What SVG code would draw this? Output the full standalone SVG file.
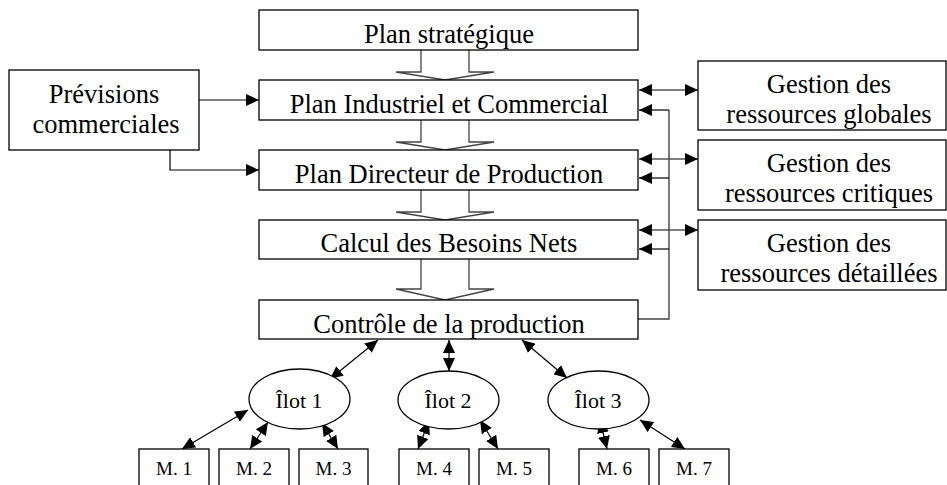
<svg xmlns="http://www.w3.org/2000/svg" width="947" height="485" viewBox="0 0 947 485">
<defs>
<style>
.box{fill:#fff;stroke:#000;stroke-width:1.3}
.t{font-family:"Liberation Serif","Times New Roman",serif;font-size:26.5px;fill:#000;text-anchor:middle}
.ti{font-family:"Liberation Serif","Times New Roman",serif;font-size:22px;fill:#000;text-anchor:middle}
.tm{font-family:"Liberation Serif","Times New Roman",serif;font-size:19px;fill:#000;text-anchor:middle}
.gl{fill:none;stroke:#444;stroke-width:1.4}
.ar{fill:none;stroke:#000;stroke-width:1.2;marker-end:url(#ah)}
.da{fill:none;stroke:#000;stroke-width:1.2;marker-start:url(#ah);marker-end:url(#ah)}
.ha{fill:#fff;stroke:#444;stroke-width:1.3}
</style>
<marker id="ah" markerUnits="userSpaceOnUse" markerWidth="13" markerHeight="12" refX="13" refY="6" orient="auto-start-reverse" viewBox="0 0 13 12">
<path d="M0,0 L13,6 L0,12 z" fill="#000"/>
</marker>
</defs>

<g id="connectors">
<path class="ha" d="M421,50 V72 H396 L445,80 L494,72 H469 V50"/>
<path class="ha" d="M421,120 V142 H396 L445,150 L494,142 H469 V120"/>
<path class="ha" d="M421,190 V212 H396 L445,220 L494,212 H469 V190"/>
<path class="ha" d="M421,259 V289 H396 L445,300 L494,289 H469 V259"/>
<path class="ar" d="M199,100 H259"/>
<path class="ar" d="M170,150 V170 H259"/>
<path class="da" d="M639,90 H698"/>
<path class="da" d="M639,159 H698"/>
<path class="da" d="M639,230 H698"/>
<path class="gl" d="M638,319 H669 V110"/>
<path class="ar" d="M669,110 H639"/>
<path class="ar" d="M669,178 H639"/>
<path class="ar" d="M669,249 H639"/>
<path class="da" d="M378,340 L330,379"/>
<path class="da" d="M449,340 L449,371"/>
<path class="da" d="M522,340 L567,378"/>
<path class="da" d="M248,410 L182,449"/>
<path class="da" d="M268,422 L250,449"/>
<path class="da" d="M322,423 L338,449"/>
<path class="da" d="M429,421 L418,449"/>
<path class="da" d="M480,420 L498,449"/>
<path class="da" d="M600,420 L607,449"/>
<path class="da" d="M640,420 L685,449"/>
</g>

<g id="plan-strategique"><rect class="box" x="259" y="10" width="379" height="40"/><text class="t" x="449" y="43">Plan stratégique</text></g>
<g id="pic"><rect class="box" x="259" y="80" width="379" height="40"/><text class="t" x="449" y="113">Plan Industriel et Commercial</text></g>
<g id="pdp"><rect class="box" x="259" y="150" width="379" height="40"/><text class="t" x="449" y="183">Plan Directeur de Production</text></g>
<g id="cbn"><rect class="box" x="259" y="220" width="379" height="39"/><text class="t" x="449" y="252">Calcul des Besoins Nets</text></g>
<g id="controle"><rect class="box" x="259" y="300" width="379" height="39"/><text class="t" x="449" y="333">Contrôle de la production</text></g>

<g id="previsions"><rect class="box" x="9" y="70" width="190" height="80"/><text class="t" x="104" y="103">Prévisions</text><text class="t" x="106" y="133">commerciales</text></g>

<g id="gestion-globales"><rect class="box" x="698" y="61" width="248" height="69"/><text class="t" x="829" y="93">Gestion des</text><text class="t" x="829" y="123">ressources globales</text></g>
<g id="gestion-critiques"><rect class="box" x="698" y="140" width="248" height="70"/><text class="t" x="829" y="172">Gestion des</text><text class="t" x="829" y="202">ressources critiques</text></g>
<g id="gestion-detaillees"><rect class="box" x="698" y="220" width="248" height="70"/><text class="t" x="829" y="252">Gestion des</text><text class="t" x="829" y="282">ressources détaillées</text></g>

<g id="ilot1"><ellipse class="box" cx="299.5" cy="399" rx="50.5" ry="30"/><text class="ti" x="299" y="408">Îlot 1</text></g>
<g id="ilot2"><ellipse class="box" cx="448.5" cy="400" rx="50.5" ry="29"/><text class="ti" x="448" y="408">Îlot 2</text></g>
<g id="ilot3"><ellipse class="box" cx="598.5" cy="400" rx="50.5" ry="29"/><text class="ti" x="598" y="408">Îlot 3</text></g>

<g id="m1"><rect class="box" x="139" y="449" width="70" height="50"/><text class="tm" x="174" y="475">M. 1</text></g>
<g id="m2"><rect class="box" x="219" y="449" width="70" height="50"/><text class="tm" x="254" y="475">M. 2</text></g>
<g id="m3"><rect class="box" x="299" y="449" width="69" height="50"/><text class="tm" x="333.5" y="475">M. 3</text></g>
<g id="m4"><rect class="box" x="399" y="449" width="70" height="50"/><text class="tm" x="434" y="475">M. 4</text></g>
<g id="m5"><rect class="box" x="479" y="449" width="70" height="50"/><text class="tm" x="514" y="475">M. 5</text></g>
<g id="m6"><rect class="box" x="579" y="449" width="70" height="50"/><text class="tm" x="614" y="475">M. 6</text></g>
<g id="m7"><rect class="box" x="659" y="449" width="70" height="50"/><text class="tm" x="694" y="475">M. 7</text></g>
</svg>
